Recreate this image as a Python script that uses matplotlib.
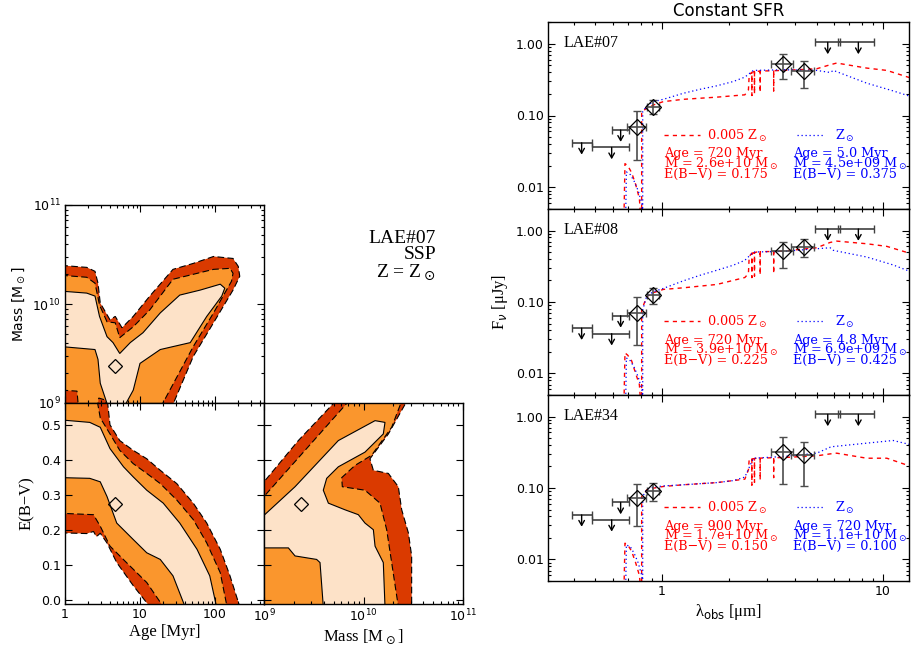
import matplotlib

matplotlib.use("Agg")

import matplotlib.pyplot as plt
import matplotlib.ticker as mticker
import numpy as np

plt.rcParams["font.family"] = "DejaVu Sans"
plt.rcParams["mathtext.fontset"] = "dejavusans"

W, H = 911, 651

DARK = "#DA3A00"
ORANGE = "#FA962D"
PEACH = "#FDE2C8"

# ---------- corner plot regions (log10 age [Myr], log10 mass) ----------
am_dark = [(-0.05, 10.39), (0.29, 10.37), (0.40, 10.33), (0.44, 10.21), (0.47, 10.01),
           (0.60, 9.84), (0.67, 9.875), (0.76, 9.76), (0.91, 9.875), (1.13, 10.08),
           (1.44, 10.35), (1.71, 10.41), (1.98, 10.48), (2.24, 10.46), (2.31, 10.38),
           (2.33, 10.28), (2.24, 10.14), (1.98, 9.81), (1.71, 9.47), (1.42, 8.95),
           (-0.05, 8.95)]
am_orange = [(-0.05, 10.29), (0.29, 10.27), (0.40, 10.21), (0.46, 9.99), (0.56, 9.82),
             (0.67, 9.81), (0.73, 9.66), (0.91, 9.77), (1.13, 9.94), (1.44, 10.25),
             (1.71, 10.30), (1.98, 10.35), (2.20, 10.36), (2.24, 10.31), (2.22, 10.23),
             (1.98, 9.91), (1.71, 9.57), (1.27, 8.95), (0.56, 8.95), (0.54, 9.03),
             (0.45, 9.05), (0.43, 8.95), (0.18, 8.95), (0.16, 9.12), (-0.05, 9.13)]
am_peach = [(-0.05, 10.13), (0.29, 10.11), (0.40, 10.08), (0.46, 9.875), (0.56, 9.67),
            (0.64, 9.61), (0.73, 9.50), (0.87, 9.61), (1.04, 9.71), (1.27, 9.91),
            (1.53, 10.09), (1.80, 10.14), (2.07, 10.20), (2.13, 10.16), (2.09, 10.08),
            (1.89, 9.875), (1.67, 9.61), (1.27, 9.54), (1.00, 9.40), (0.91, 9.13),
            (0.78, 8.95), (0.58, 8.95), (0.47, 9.20), (0.44, 9.44), (0.40, 9.54),
            (-0.05, 9.57)]

# (log10 age, E(B-V))
ae_dark = [(-0.05, 0.58), (0.56, 0.58), (0.60, 0.50), (0.73, 0.455), (0.91, 0.427),
           (1.09, 0.403), (1.27, 0.37), (1.49, 0.332), (1.71, 0.276), (1.89, 0.219),
           (2.07, 0.144), (2.20, 0.068), (2.33, -0.02), (1.13, -0.02), (0.91, 0.04),
           (0.69, 0.106), (0.56, 0.162), (0.47, 0.19), (0.42, 0.18), (0.38, 0.195),
           (0.29, 0.189), (-0.05, 0.191)]
ae_orange = [(-0.05, 0.58), (0.42, 0.58), (0.47, 0.52), (0.60, 0.474), (0.73, 0.427),
             (0.91, 0.389), (1.09, 0.361), (1.27, 0.332), (1.49, 0.285), (1.71, 0.229),
             (1.89, 0.162), (2.07, 0.077), (2.16, -0.02), (1.31, -0.02), (1.09, 0.049),
             (0.82, 0.106), (0.60, 0.153), (0.47, 0.21), (0.38, 0.243), (-0.05, 0.247)]
ae_peach = [(-0.05, 0.514), (0.33, 0.507), (0.47, 0.493), (0.60, 0.432), (0.78, 0.38),
            (0.91, 0.351), (1.09, 0.313), (1.31, 0.276), (1.53, 0.219), (1.76, 0.144),
            (1.93, 0.068), (2.02, -0.02), (1.60, -0.02), (1.44, 0.068), (1.27, 0.115),
            (1.09, 0.134), (0.91, 0.172), (0.69, 0.219), (0.56, 0.295), (0.47, 0.337),
            (0.33, 0.347), (-0.05, 0.349)]

# (log10 mass, E(B-V))
me_dark = [(8.95, 0.32), (9.345, 0.455), (9.76, 0.58), (10.46, 0.58), (10.25, 0.474),
           (10.065, 0.403), (10.099, 0.370), (10.25, 0.361), (10.35, 0.323),
           (10.384, 0.257), (10.451, 0.191), (10.484, 0.125), (10.484, -0.02),
           (8.95, -0.02)]
me_orange = [(8.95, 0.279), (9.89, 0.58), (10.40, 0.58), (10.283, 0.493), (10.082, 0.413),
             (9.915, 0.384), (9.781, 0.349), (9.787, 0.323), (10.015, 0.313),
             (10.166, 0.276), (10.233, 0.200), (10.283, 0.106), (10.35, -0.02),
             (8.95, -0.02)]
me_peach = [(8.95, 0.228), (9.312, 0.323), (9.747, 0.455), (10.116, 0.512), (10.216, 0.507),
            (10.199, 0.474), (10.015, 0.422), (9.747, 0.380), (9.63, 0.347), (9.596, 0.313),
            (9.647, 0.276), (9.814, 0.257), (9.948, 0.243), (10.015, 0.219), (10.099, 0.200),
            (10.116, 0.153), (10.199, 0.106), (10.216, -0.02), (9.596, -0.02), (9.563, 0.106),
            (9.529, 0.115), (9.312, 0.125), (9.245, 0.148), (8.95, 0.148)]

best_age, best_mass, best_ebv = 4.7, 2.35e9, 0.275

# ---------- SED photometry ----------
lim_lam = [0.433, 0.592, 0.65, 5.62, 7.73]
lim_lo = [0.39, 0.481, 0.592, 4.92, 6.28]
lim_hi = [0.481, 0.712, 0.712, 6.39, 9.1]
det_lam = [0.768, 0.913, 3.52, 4.39]
det_lo = [0.692, 0.858, 3.1, 3.82]
det_hi = [0.846, 0.972, 3.9, 4.87]

lae07_lim = [0.0417, 0.0359, 0.0627, 1.04, 1.04]
lae07_flux = [0.0698, 0.133, 0.525, 0.41]
lae07_flo = [0.0244, 0.105, 0.324, 0.24]
lae07_fhi = [0.117, 0.165, 0.725, 0.566]

lae08_lim = [0.043, 0.036, 0.064, 1.05, 1.05]
lae08_flux = [0.071, 0.124, 0.511, 0.587]
lae08_flo = [0.0253, 0.093, 0.303, 0.426]
lae08_fhi = [0.116, 0.158, 0.689, 0.758]

lae34_lim = [0.042, 0.0359, 0.0627, 1.07, 1.07]
lae34_flux = [0.072, 0.092, 0.317, 0.285]
lae34_flo = [0.0296, 0.066, 0.114, 0.108]
lae34_fhi = [0.114, 0.117, 0.514, 0.447]

# ---------- model spectra ----------
red_lam = [0.673, 0.68, 0.70, 0.729, 0.76, 0.79, 0.80, 0.809, 0.809, 0.853, 0.913, 1.014,
           1.25, 1.77, 2.37, 2.46, 2.48, 2.55, 2.55, 2.55, 2.62, 2.62, 2.62, 2.68, 2.78,
           2.78, 2.78, 3.2, 3.2, 3.2, 3.54, 5.01, 5.76, 6.17, 8.43, 10.4, 13.4]
red07_flux = [0.004, 0.0214, 0.02, 0.016, 0.011, 0.007, 0.004, 0.004, 0.113, 0.126, 0.140,
              0.156, 0.168, 0.18, 0.194, 0.227, 0.368, 0.40, 0.19, 0.40, 0.41, 0.20, 0.41,
              0.41, 0.415, 0.21, 0.415, 0.42, 0.22, 0.42, 0.424, 0.447, 0.508, 0.537,
              0.457, 0.424, 0.331]
red08_flux = [0.004, 0.0194, 0.018, 0.015, 0.010, 0.007, 0.004, 0.004, 0.0774, 0.119, 0.135,
              0.150, 0.158, 0.176, 0.22, 0.25, 0.435, 0.48, 0.22, 0.48, 0.49, 0.23, 0.49,
              0.50, 0.505, 0.24, 0.505, 0.51, 0.25, 0.51, 0.516, 0.574, 0.681, 0.711,
              0.653, 0.60, 0.474]
red34_flux = [0.004, 0.0169, 0.016, 0.013, 0.009, 0.006, 0.004, 0.004, 0.076, 0.0942, 0.0995,
              0.105, 0.111, 0.119, 0.133, 0.18, 0.253, 0.255, 0.11, 0.255, 0.258, 0.12,
              0.258, 0.261, 0.262, 0.13, 0.262, 0.265, 0.14, 0.265, 0.267, 0.282, 0.30,
              0.307, 0.261, 0.261, 0.20]

blue_lam = [0.685, 0.69, 0.72, 0.75, 0.78, 0.81, 0.818, 0.818, 0.853, 0.913, 1.014, 1.25,
            1.49, 1.77, 2.1, 2.37, 2.59, 3.54, 5.01, 5.76, 5.96, 8.43, 11.1, 13.4]
blue07_flux = [0.004, 0.0164, 0.015, 0.012, 0.009, 0.006, 0.004, 0.113, 0.136, 0.156, 0.168,
               0.204, 0.232, 0.259, 0.297, 0.342, 0.424, 0.433, 0.424, 0.397, 0.424, 0.282,
               0.22, 0.183]
blue08_flux = [0.004, 0.0165, 0.015, 0.012, 0.009, 0.006, 0.004, 0.0774, 0.121, 0.139, 0.155,
               0.198, 0.237, 0.278, 0.327, 0.383, 0.50, 0.511, 0.556, 0.574, 0.528, 0.426,
               0.33, 0.264]
blue34_flux = [0.004, 0.016, 0.015, 0.012, 0.009, 0.006, 0.004, 0.076, 0.0963, 0.1027, 0.107,
               0.111, 0.115, 0.119, 0.127, 0.142, 0.261, 0.276, 0.307, 0.372, 0.38, 0.424,
               0.462, 0.402]

red07_txt = ["Age = 720 Myr", r"M = 2.6e+10 M$_\odot$", "E(B\u2212V) = 0.175"]
blue07_txt = ["Age = 5.0 Myr", r"M = 4.5e+09 M$_\odot$", "E(B\u2212V) = 0.375"]
red08_txt = ["Age = 720 Myr", r"M = 3.9e+10 M$_\odot$", "E(B\u2212V) = 0.225"]
blue08_txt = ["Age = 4.8 Myr", r"M = 6.9e+09 M$_\odot$", "E(B\u2212V) = 0.425"]
red34_txt = ["Age = 900 Myr", r"M = 1.7e+10 M$_\odot$", "E(B\u2212V) = 0.150"]
blue34_txt = ["Age = 720 Myr", r"M = 1.1e+10 M$_\odot$", "E(B\u2212V) = 0.100"]

corner_txt = ["LAE#07", "SSP", r"Z = Z$_\odot$"]

SERIF = "Liberation Serif"


def px_axes(fig, x0, y0, x1, y1):
    return fig.add_axes([x0 / W, 1 - y1 / H, (x1 - x0) / W, (y1 - y0) / H])


def idl_ticks(ax):
    ax.tick_params(which="both", direction="in", top=True, right=True, width=0.8,
                   labelsize=9, pad=3)
    ax.tick_params(which="major", length=5)
    ax.tick_params(which="minor", length=2.5)
    for s in ax.spines.values():
        s.set_linewidth(1.0)


def draw_regions(ax, regions, xlog, ylog):
    for pts, fc, ls in zip(regions, [DARK, ORANGE, PEACH], [(0, (6, 3)), (0, (6, 3)), "-"]):
        x, y = np.array(pts).T
        if xlog:
            x = 10 ** x
        if ylog:
            y = 10 ** y
        ax.fill(x, y, facecolor=fc, edgecolor="black", lw=0.8, linestyle=ls, zorder=1)


fig = plt.figure(figsize=(W / 100, H / 100), dpi=100)

age_fmt = mticker.FuncFormatter(lambda v, p: f"{v:g}")

# ---------- top-left: mass vs age ----------
ax_am = px_axes(fig, 65, 205, 264, 403)
ax_am.set_xscale("log")
ax_am.set_yscale("log")
draw_regions(ax_am, [am_dark, am_orange, am_peach], True, True)
ax_am.plot([best_age], [best_mass], "D", mfc="none", mec="black", ms=7, mew=0.9, zorder=3)
ax_am.set_xlim(1, 450)
ax_am.set_ylim(1e9, 1e11)
ax_am.xaxis.set_major_formatter(mticker.NullFormatter())
ax_am.set_ylabel(r"Mass [M$_\odot$]", fontsize=10, labelpad=4)
idl_ticks(ax_am)

# ---------- bottom-left: E(B-V) vs age ----------
ax_ae = px_axes(fig, 65, 403, 264, 604)
ax_ae.set_xscale("log")
draw_regions(ax_ae, [ae_dark, ae_orange, ae_peach], True, False)
ax_ae.plot([best_age], [best_ebv], "D", mfc="none", mec="black", ms=7, mew=0.9, zorder=3)
ax_ae.set_xlim(1, 450)
ax_ae.set_ylim(-0.0125, 0.5625)
ax_ae.xaxis.set_major_formatter(age_fmt)
ax_ae.yaxis.set_major_locator(mticker.MultipleLocator(0.1))
ax_ae.yaxis.set_major_formatter(mticker.FormatStrFormatter("%.1f"))
ax_ae.set_xlabel("Age [Myr]", family=SERIF, fontsize=12, labelpad=2)
ax_ae.set_ylabel("E(B\u2212V)", family=SERIF, fontsize=12, labelpad=4)
idl_ticks(ax_ae)

# ---------- bottom-middle: E(B-V) vs mass ----------
ax_me = px_axes(fig, 264, 403, 463, 604)
ax_me.set_xscale("log")
draw_regions(ax_me, [me_dark, me_orange, me_peach], True, False)
ax_me.plot([best_mass], [best_ebv], "D", mfc="none", mec="black", ms=7, mew=0.9, zorder=3)
ax_me.set_xlim(1e9, 1e11)
ax_me.set_ylim(-0.0125, 0.5625)
ax_me.yaxis.set_major_locator(mticker.MultipleLocator(0.1))
ax_me.yaxis.set_major_formatter(mticker.NullFormatter())
ax_me.set_xlabel(r"Mass [M$_\odot$]", family=SERIF, fontsize=12, labelpad=2)
idl_ticks(ax_me)

# multi-line text: the baseline given is the one of the last line
fig.text(436 / W, 1 - 277 / H, "\n".join(corner_txt), ha="right", va="baseline",
         multialignment="right", family=SERIF, fontsize=14, linespacing=0.95)

# ---------- SED panels ----------
panels = [
    ("LAE#07", 22, 209, lae07_lim, lae07_flux, lae07_flo, lae07_fhi, red07_flux,
     blue07_flux, red07_txt, blue07_txt),
    ("LAE#08", 209, 395, lae08_lim, lae08_flux, lae08_flo, lae08_fhi, red08_flux,
     blue08_flux, red08_txt, blue08_txt),
    ("LAE#34", 395, 581, lae34_lim, lae34_flux, lae34_flo, lae34_fhi, red34_flux,
     blue34_flux, red34_txt, blue34_txt),
]

red_ls = (0, (3, 3))
blue_ls = (0, (1, 2.2))
TXT = dict(family="DejaVu Serif", fontsize=9.2, va="baseline")
leg_y = 0.396

for i, (name, top, bot, lim, flux, flo, fhi, rflux, bflux, rtxt, btxt) in enumerate(panels):
    ax = px_axes(fig, 548, top, 909, bot)
    ax.set_xscale("log")
    ax.set_yscale("log")
    ax.plot(red_lam, rflux, color="red", lw=1.0, linestyle=red_ls, zorder=2)
    ax.plot(blue_lam, bflux, color="blue", lw=0.9, linestyle=blue_ls, zorder=2)

    ll = np.array(lim_lam)
    ax.errorbar(ll, lim, xerr=[ll - np.array(lim_lo), np.array(lim_hi) - ll], fmt="none",
                ecolor="0.25", elinewidth=1.2, capsize=3, capthick=1.0, zorder=4)
    for lx, ly in zip(lim_lam, lim):
        ax.annotate("", xy=(lx, ly), xytext=(0, -8.5), textcoords="offset points",
                    arrowprops=dict(arrowstyle="<-, head_length=0.35, head_width=0.2",
                                    color="black", lw=1.0, shrinkA=0, shrinkB=0),
                    zorder=4)

    dl = np.array(det_lam)
    fl = np.array(flux)
    ax.errorbar(dl, fl, xerr=[dl - np.array(det_lo), np.array(det_hi) - dl],
                yerr=[fl - np.array(flo), np.array(fhi) - fl], fmt="none",
                ecolor="0.3", elinewidth=1.2, capsize=3, capthick=1.0, zorder=4)
    ax.plot(dl, fl, "D", mfc="none", mec="black", ms=8.5, mew=0.9, zorder=5)

    ax.set_xlim(0.305, 13.1)
    ax.set_ylim(0.005, 2.0)
    ax.yaxis.set_major_locator(mticker.FixedLocator([0.01, 0.1, 1.0]))
    ax.yaxis.set_major_formatter(mticker.FixedFormatter(["0.01", "0.10", "1.00"]))
    ax.yaxis.set_minor_locator(mticker.LogLocator(subs=np.arange(2, 10)))
    ax.yaxis.set_minor_formatter(mticker.NullFormatter())
    ax.xaxis.set_minor_formatter(mticker.NullFormatter())
    if i < 2:
        ax.xaxis.set_major_formatter(mticker.NullFormatter())
    else:
        ax.xaxis.set_major_formatter(age_fmt)
        ax.set_xlabel("\u03bb$_{\\rm obs}$ [\u03bcm]", family=SERIF, fontsize=12, labelpad=3)
    idl_ticks(ax)

    ax.text(0.044, 0.888, name, transform=ax.transAxes, ha="left", va="center",
            family=SERIF, fontsize=11.5)

    ax.plot([0.321, 0.421], [leg_y, leg_y], transform=ax.transAxes, color="red", lw=1.0,
            linestyle=red_ls)
    ax.text(0.44, 0.370, r"0.005 Z$_\odot$", transform=ax.transAxes, color="red", **TXT)
    ax.plot([0.69, 0.767], [leg_y, leg_y], transform=ax.transAxes, color="blue", lw=0.9,
            linestyle=blue_ls)
    ax.text(0.795, 0.370, r"Z$_\odot$", transform=ax.transAxes, color="blue", **TXT)
    ax.text(0.321, 0.165, "\n".join(rtxt), transform=ax.transAxes, color="red",
            linespacing=0.62, **TXT)
    ax.text(0.679, 0.165, "\n".join(btxt), transform=ax.transAxes, color="blue",
            linespacing=0.62, **TXT)

    if i == 0:
        ax.set_title("Constant SFR", fontsize=12, pad=4)
    if i == 1:
        ax.set_ylabel("F$_\\nu$ [\u03bcJy]", family=SERIF, fontsize=12, labelpad=4)

fig.savefig("out.png", dpi=100)
